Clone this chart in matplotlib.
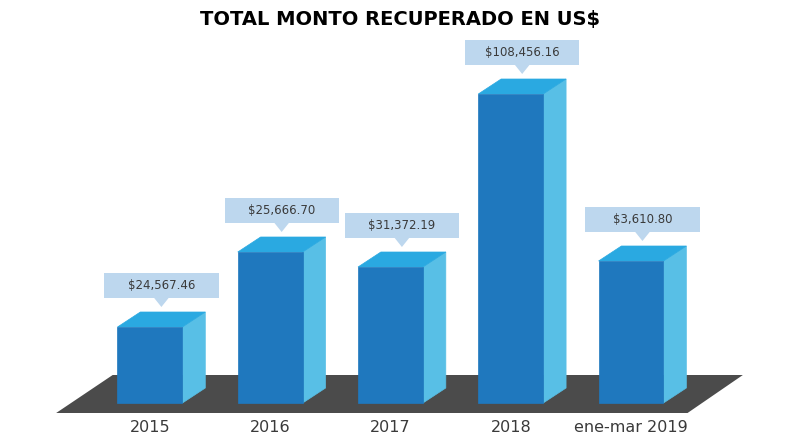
import matplotlib
matplotlib.use("Agg")
import matplotlib.pyplot as plt
from matplotlib.patches import Polygon

categories = ["2015", "2016", "2017", "2018", "ene-mar 2019"]
amounts = [24567.46, 25666.70, 31372.19, 108456.16, 3610.80]
# heights of the drawn bars as they appear in the picture (not proportional to amounts)
bar_heights = [76, 151, 136, 309, 142]

front_col = "#1f78be"
top_col = "#2aa9e1"
side_col = "#58bfe6"
floor_col = "#4b4b4b"
box_col = "#bdd7ee"
text_col = "#3a3a3a"

width = 0.54
ddx = 0.19   # depth offset in x units
ddy = 15     # depth offset in y units

fig = plt.figure(figsize=(8, 4.44), dpi=100)
ax = fig.add_axes([0, 0, 1, 1])
ax.set_xlim(-1.247, 5.405)
ax.set_ylim(-41, 403)
ax.axis("off")

# floor
floor = Polygon([(-0.78, -10), (4.47, -10), (4.93, 28), (-0.31, 28)],
                closed=True, facecolor=floor_col, edgecolor="none", zorder=1)
ax.add_patch(floor)

for i, (h, amt, cat) in enumerate(zip(bar_heights, amounts, categories)):
    x0 = i - width / 2
    x1 = i + width / 2
    # side face
    ax.add_patch(Polygon([(x1, 0), (x1 + ddx, ddy), (x1 + ddx, h + ddy), (x1, h)],
                         closed=True, facecolor=side_col, edgecolor=side_col, lw=0.5, zorder=2))
    # top face
    ax.add_patch(Polygon([(x0, h), (x1, h), (x1 + ddx, h + ddy), (x0 + ddx, h + ddy)],
                         closed=True, facecolor=top_col, edgecolor=top_col, lw=0.5, zorder=2))
    # front face
    ax.bar(i, h, width=width, color=front_col, edgecolor=front_col, linewidth=0.5, zorder=3)

    # callout box
    cx = i + ddx / 2
    box_bottom = h + ddy + 14
    bw = 0.95
    bh = 25
    ax.add_patch(Polygon([(cx - bw / 2, box_bottom), (cx + bw / 2, box_bottom),
                          (cx + bw / 2, box_bottom + bh), (cx - bw / 2, box_bottom + bh)],
                         closed=True, facecolor=box_col, edgecolor="none", zorder=4))
    ax.add_patch(Polygon([(cx - 0.06, box_bottom), (cx + 0.06, box_bottom), (cx, box_bottom - 9)],
                         closed=True, facecolor=box_col, edgecolor="none", zorder=4))
    ax.text(cx, box_bottom + bh / 2, "${:,.2f}".format(amt), ha="center", va="center",
            fontsize=8.5, color=text_col, zorder=5)

    ax.text(i, -24, cat, ha="center", va="center", fontsize=11.5, color=text_col)

fig.text(0.5, 0.957, "TOTAL MONTO RECUPERADO EN US$", ha="center", va="center",
         fontsize=14, fontweight="bold", color="black")

fig.savefig("out.png", dpi=100, facecolor="white")
